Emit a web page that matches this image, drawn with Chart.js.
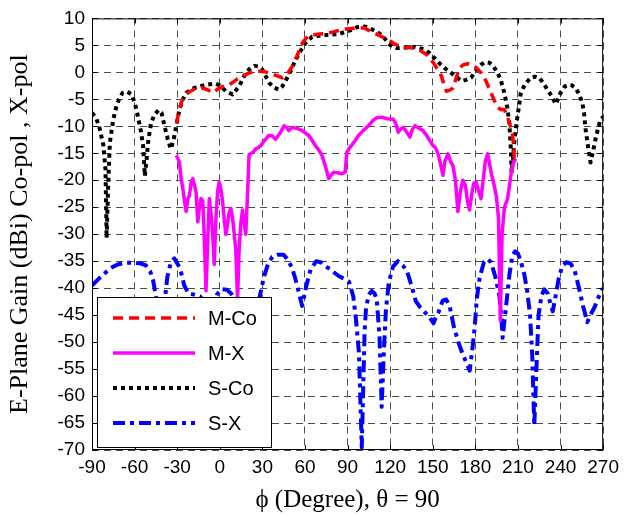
<!DOCTYPE html>
<html>
<head>
<meta charset="utf-8">
<script src="https://cdn.jsdelivr.net/npm/chart.js@4"></script>
<style>
  html, body { margin: 0; padding: 0; background: #fff; }
  #wrap { width: 625px; height: 517px; }
</style>
</head>
<body>
<div id="wrap"><canvas id="chart" width="625" height="517"></canvas></div>
<script>
  const xTicks = [-90, -60, -30, 0, 30, 60, 90, 120, 150, 180, 210, 240, 270];
  const yTicks = [10, 5, 0, -5, -10, -15, -20, -25, -30, -35, -40, -45, -50, -55, -60, -65, -70];

  const mCoPhi = [-30.5, -29, -27, -25, -23.7, -20, -16.7, -12, -8, -5, -2, 2, 6, 9, 12, 16, 20, 25, 30, 34.6, 39, 44, 47.5, 51, 54, 58, 61, 65, 70, 74.3, 80, 86, 91, 97.7, 102, 107, 112, 118.7, 123, 126.9, 132, 137.5, 141.5, 145.6, 148.5, 151.4, 154, 156.1, 158, 159.6, 162, 164.3, 166.5, 168.9, 171.5, 174.7, 178.2, 181, 184, 187.5, 191, 193.5, 195.7, 198, 200.4, 202.3, 203.9, 205.2, 206.2, 207, 207.4];
  const mCoGain = [-9.5, -7.5, -5.5, -4.5, -4.1, -3.4, -2.9, -2.9, -3.3, -3.8, -3.2, -2.6, -2.4, -1.9, -1.3, -0.7, -0.2, 0.2, 0.2, -0.1, -0.5, -1, -0.3, 1.1, 2.8, 5.4, 6.4, 6.9, 7.1, 7.2, 7.5, 7.9, 8.1, 8.2, 8.2, 7.5, 6.9, 6, 5.3, 4.8, 4.6, 4.5, 4, 3.3, 2.4, 1.4, 0.3, -0.7, -2.3, -3.5, -3.3, -2.9, -1, 0.8, 1.4, 1.6, 1.4, 0.8, -0.1, -1.6, -3.8, -5.3, -6.5, -6.9, -6.9, -8, -9.3, -10.5, -11.7, -14, -16];

  const mXPhi = [-30.7, -29.5, -28.4, -27.2, -26, -24.8, -23.7, -22.5, -21.4, -20.2, -19, -17.8, -16.7, -15.5, -14.3, -13.2, -12, -11, -9.7, -8.6, -7.4, -6.2, -5, -3.9, -2.7, -1.5, -0.4, 1, 2, 3.2, 4.3, 5.5, 6.6, 7.8, 9, 10.2, 11.3, 12.5, 13.6, 14.8, 16, 17.2, 18.3, 19.3, 20.6, 22, 23.5, 25.3, 27, 28.8, 31, 34.6, 37, 39.3, 41.5, 43.5, 45.2, 47, 48.7, 51, 54.5, 58, 62.7, 65, 67.4, 70, 72, 74.5, 76.7, 78.5, 80.2, 83, 86, 88.3, 89.5, 92, 95, 97.7, 101, 104.7, 108, 110.5, 114, 118, 122.2, 124, 125.7, 127.5, 129.2, 131.5, 133.9, 135.7, 137.5, 140, 143.2, 146, 148, 150.2, 152, 153.7, 155.5, 157.2, 158.5, 160.7, 162.5, 164.2, 166, 167.7, 169.5, 171.2, 173, 174.5, 175.9, 177.5, 179, 180.5, 182.3, 184, 185.5, 187, 188.7, 190, 191.5, 193.3, 194.8, 196.3, 197.6, 198.8, 200.5, 202.7, 204, 205, 206.5, 208.5];
  const mXGain = [-15.4, -16, -16.7, -19.7, -21.6, -24, -25.8, -23.5, -22.8, -20.5, -19.7, -21, -22.2, -27.7, -25, -23.4, -23.8, -30, -40.5, -32, -23.4, -26, -30, -35.6, -27, -22, -20.3, -22, -24, -27.5, -30, -28, -26, -25.2, -27, -30, -33, -42.2, -33, -28, -25.5, -28, -30, -24, -15.4, -15, -14.8, -14.2, -14, -13.6, -12.8, -11.7, -11.8, -12.4, -11.6, -10.8, -9.9, -10.2, -10.8, -10.2, -10.4, -10.8, -11.7, -12.6, -13.6, -14.5, -15.4, -17.5, -19.7, -19, -18.5, -18.6, -18.8, -18.5, -14.8, -13.8, -12.8, -11.7, -10.8, -9.9, -8.9, -8.4, -8.3, -8.6, -8.7, -9.5, -11.1, -10.5, -10.2, -11, -12, -10.5, -9.9, -10.3, -10.8, -11.8, -12.7, -13.6, -14, -15.1, -17, -19.1, -16.5, -15.1, -16.5, -17.3, -20, -25.8, -22, -20, -21, -24, -25.5, -22.5, -20.5, -20.3, -22, -23.4, -20, -16.5, -15.1, -17, -19, -21, -23, -27, -46, -30, -25, -23.4, -21, -19.1, -17, -16];

  const sCoPhi = [-90, -87, -84.5, -82, -80.5, -79.7, -78.5, -77.4, -75, -73, -71, -68.5, -65, -62, -59.5, -57.5, -55.5, -54, -52.8, -51.5, -50.5, -48.5, -46, -43, -41, -39, -36.5, -34.5, -32.5, -30.7, -28.4, -26, -23.7, -18, -10, -3, 0, 4.3, 9, 13.6, 18.3, 22, 24.5, 27, 30, 32.5, 35, 38, 41.6, 44, 46.3, 50, 53.3, 57, 60.3, 65, 70, 74.3, 79, 83.7, 88.3, 93, 97, 102.4, 107, 110, 114, 117, 119.9, 124.6, 131, 137.5, 144.4, 148, 151.4, 155, 158.4, 163, 167, 170, 173.5, 177, 180.5, 184, 187, 189.9, 193, 195.7, 198, 200.4, 202.5, 203.9, 205, 205.5, 206.5, 207.4, 208.5, 209.7, 211, 212, 215, 219, 222, 224.9, 228, 230.7, 234, 236.6, 238.5, 240, 243, 245.9, 248, 250.6, 253, 255.3, 256.5, 257.6, 259.5, 261.1, 263, 264.6, 266.5, 268.1, 270];
  const sCoGain = [-7.5, -8.5, -10.5, -13.5, -18, -30.7, -20, -13, -8.7, -6.5, -5, -3.8, -3.6, -4.1, -6, -8.4, -11, -13.6, -19.2, -16, -13, -9.5, -7.8, -7, -7.5, -9.9, -12.5, -14.2, -12.5, -9.9, -6.9, -5, -3.8, -2.9, -2.3, -2.1, -2.4, -3.5, -4.1, -2.6, -0.1, 0.9, 1.2, 1.1, 0.5, -0.8, -2, -2.8, -3.2, -2.6, -1.6, 0.3, 2.3, 4, 5.4, 6.6, 6.8, 6.9, 7, 7.1, 7.5, 7.9, 8.4, 8.5, 8, 7.6, 6.9, 6, 5.1, 4.5, 4.6, 4.7, 4.2, 3.5, 2.6, 1.6, 0.8, -0.1, -0.9, -1.6, -1.4, -1, 0.4, 1.4, 1.9, 1.8, 1, -0.1, -1.5, -3.8, -6.5, -9.3, -14.2, -18.5, -16, -13, -10.5, -8.1, -5.8, -3.8, -2.2, -1, -0.8, -1, -2, -3.2, -4.5, -5.9, -4.8, -3.8, -2.6, -2.3, -2.4, -2.9, -4, -5.6, -7.5, -10.5, -14, -16.7, -14.5, -12.4, -10.3, -8.7, -8.3];

  const sXPhi = [-90, -85, -80, -77, -72, -66, -60, -56, -52, -49, -47, -45, -42, -39, -37, -34.5, -32, -28, -25, -22, -18, -14, -11, -8, -5, -2, 1, 5, 8, 11, 14, 18, 22, 26, 29, 31, 34, 37, 41, 45, 48, 51, 54, 58, 61, 64, 68, 72, 76, 80, 84, 88, 91, 94, 96, 98, 100, 102, 103, 105, 107, 109, 110.5, 112.5, 114, 115.5, 117, 119, 122, 125.5, 129, 132, 135, 138, 141, 144.5, 148, 150.5, 152, 154, 157, 159.5, 162, 165, 168, 171, 174, 176, 178, 179.5, 181, 183, 186, 188.5, 191, 194, 197, 198.5, 199.2, 200.5, 202, 204, 206, 208, 210, 212, 214.5, 216.5, 218.5, 220, 221.5, 223, 224.5, 226.5, 228.5, 231, 233, 234.5, 236.5, 238.5, 241, 244, 247, 250, 253, 256, 258.8, 261, 264, 267, 270];
  const sXGain = [-39.5, -38.2, -37, -36.3, -35.6, -35.3, -35.3, -35.4, -35.8, -36.9, -38.5, -41.5, -46, -43, -38, -35.2, -34.5, -36.3, -39.5, -41, -41.2, -41.5, -42.5, -45, -44, -41.2, -40.2, -40.3, -41, -42.5, -47, -50, -48, -44, -40.5, -38, -35.5, -34.2, -33.8, -33.8, -34.8, -36.3, -39, -43.3, -39.5, -36.5, -35, -35.3, -36.2, -37, -37.8, -38.3, -38.8, -41.5, -46, -52, -69.5, -48, -43.6, -41.2, -40.5, -41, -42, -49, -62, -52, -44, -39, -36, -35, -35.8, -37, -39.5, -42.4, -43.5, -44.5, -45.5, -46.5, -45.5, -44.5, -42.3, -42.1, -43.5, -47.3, -50, -52.2, -54, -55.3, -51, -47.3, -42, -38.1, -35.2, -34.6, -35.2, -37.8, -41.5, -46, -49.2, -46, -42.5, -37.5, -34, -33.2, -33.6, -35, -37.5, -40.5, -45, -52, -65.5, -55, -45, -41.5, -40.2, -41, -43, -44.3, -41.5, -38.5, -36, -35.2, -35.4, -36.8, -40, -43.5, -46.3, -45, -43.5, -41.5, -40];

  const seriesNames = ["M-Co", "M-X", "S-Co", "S-X"];

  function toPoints(phi, gain) {
    return phi.map((p, i) => ({ x: p, y: gain[i] }));
  }

  const sansFont = "'Liberation Sans', Arial, sans-serif";
  const serifFont = "'Liberation Serif', 'Times New Roman', serif";

  // boxed axes with inward tick marks, like the original plot
  const boxPlugin = {
    id: "box",
    afterDatasetsDraw(chart) {
      const { ctx, chartArea: a, scales } = chart;
      ctx.save();
      ctx.strokeStyle = "#000";
      ctx.lineWidth = 1;
      ctx.setLineDash([]);
      ctx.strokeRect(a.left + 0.5, a.top + 0.5, a.right - a.left - 1, a.bottom - a.top - 1);
      ctx.beginPath();
      xTicks.forEach((v) => {
        const px = Math.round(scales.x.getPixelForValue(v)) + 0.5;
        ctx.moveTo(px, a.bottom); ctx.lineTo(px, a.bottom - 5);
        ctx.moveTo(px, a.top); ctx.lineTo(px, a.top + 5);
      });
      yTicks.forEach((v) => {
        const py = Math.round(scales.y.getPixelForValue(v)) + 0.5;
        ctx.moveTo(a.left, py); ctx.lineTo(a.left + 5, py);
        ctx.moveTo(a.right, py); ctx.lineTo(a.right - 5, py);
      });
      ctx.stroke();
      ctx.restore();
    },
    afterDraw(chart) {
      const { ctx, chartArea: a } = chart;
      const bx = a.left + 5, by = 297, bw = 174, bh = 150;
      ctx.save();
      ctx.fillStyle = "#fff";
      ctx.fillRect(bx, by, bw, bh);
      ctx.strokeStyle = "#000";
      ctx.lineWidth = 1;
      ctx.strokeRect(bx + 0.5, by + 0.5, bw, bh);
      ctx.font = "20px " + sansFont;
      ctx.textBaseline = "middle";
      chart.data.datasets.forEach((ds, i) => {
        const y = by + 21 + i * 35;
        ctx.beginPath();
        ctx.strokeStyle = ds.borderColor;
        ctx.lineWidth = ds.borderWidth;
        ctx.setLineDash(ds.borderDash || []);
        ctx.moveTo(bx + 16, y);
        ctx.lineTo(bx + 98, y);
        ctx.stroke();
        ctx.setLineDash([]);
        ctx.fillStyle = "#000";
        ctx.fillText(ds.label, bx + 111, y + 1);
      });
      ctx.restore();
    },
  };

  const ctx = document.getElementById("chart").getContext("2d");
  new Chart(ctx, {
    type: "line",
    data: {
      datasets: [
        { label: seriesNames[0], data: toPoints(mCoPhi, mCoGain), borderColor: "#ff0000", borderWidth: 3.5, borderDash: [10, 6] },
        { label: seriesNames[1], data: toPoints(mXPhi, mXGain), borderColor: "#ff00ff", borderWidth: 3.5 },
        { label: seriesNames[2], data: toPoints(sCoPhi, sCoGain), borderColor: "#000000", borderWidth: 4, borderDash: [4, 4] },
        { label: seriesNames[3], data: toPoints(sXPhi, sXGain), borderColor: "#0000ff", borderWidth: 4, borderDash: [12, 5, 4, 5] },
      ],
    },
    options: {
      responsive: false,
      animation: false,
      layout: { padding: { top: 15, right: 19, left: 0, bottom: 0 } },
      elements: {
        point: { radius: 0 },
        line: { tension: 0, borderCapStyle: "butt", borderJoinStyle: "round" },
      },
      scales: {
        x: {
          type: "linear",
          min: -90,
          max: 270,
          afterFit: (s) => { s.height = 67; },
          afterBuildTicks: (s) => { s.ticks = xTicks.map((v) => ({ value: v })); },
          ticks: { color: "#000", font: { family: sansFont, size: 19 }, padding: 6, maxRotation: 0, autoSkip: false },
          grid: { color: "#4d4d4d", lineWidth: 1, drawTicks: false },
          border: { display: false, dash: [7, 5] },
          title: { display: true, text: "\u03d5 (Degree), \u03b8 = 90", color: "#000", font: { family: serifFont, size: 25 }, padding: { top: 0, bottom: 2 } },
        },
        y: {
          type: "linear",
          min: -70,
          max: 10,
          afterFit: (s) => { s.width = 92; },
          afterBuildTicks: (s) => { s.ticks = yTicks.map((v) => ({ value: v })); },
          ticks: { color: "#000", font: { family: sansFont, size: 19 }, padding: 7, autoSkip: false },
          grid: { color: "#4d4d4d", lineWidth: 1, drawTicks: false },
          border: { display: false, dash: [7, 5] },
          title: { display: true, text: "E-Plane Gain (dBi) Co-pol , X-pol", color: "#000", font: { family: serifFont, size: 26 }, padding: { top: 5, bottom: 0 } },
        },
      },
      plugins: {
        legend: { display: false },
        tooltip: { enabled: false },
      },
    },
    plugins: [boxPlugin],
  });
</script>
</body>
</html>
